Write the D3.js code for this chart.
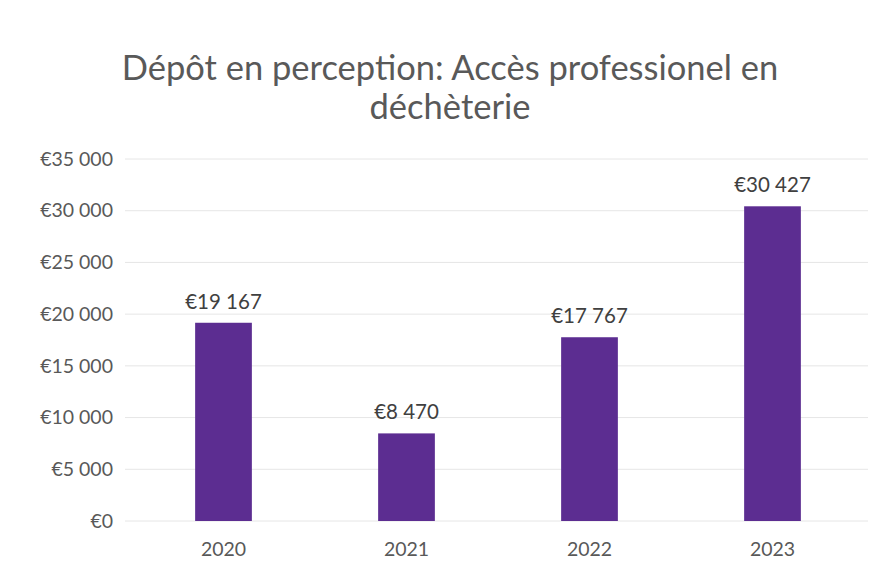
<!DOCTYPE html>
<html><head><meta charset="utf-8">
<script src="https://cdn.jsdelivr.net/npm/d3@7"></script>
<style>body{margin:0;background:#fff;}svg{display:block;font-family:Lato,"Open Sans",sans-serif;}</style>
</head><body><svg id="c" width="882" height="573"></svg>
<script>
const categories = ["2020","2021","2022","2023"];
const values = [19167, 8470, 17767, 30427];
const valueLabels = ["€19 167","€8 470","€17 767","€30 427"];
const yTicks = [0,5000,10000,15000,20000,25000,30000,35000];
const yTickLabels = ["€0","€5 000","€10 000","€15 000","€20 000","€25 000","€30 000","€35 000"];
const titleLines = ["Dépôt en perception: Accès professionel en","déchèterie"];

const svg = d3.select("#c");
const m = {l:132, r:864, t:159, b:521};
const x = d3.scaleBand().domain(categories).range([m.l, m.r]).paddingInner(0.69).paddingOuter(0.345);
const y = d3.scaleLinear().domain([0,35000]).range([m.b, m.t]);

svg.append("g").selectAll("line").data(yTicks).join("line")
  .attr("x1", 125).attr("x2", 868).attr("y1", d=>y(d)).attr("y2", d=>y(d))
  .attr("stroke","#e6e6e6").attr("stroke-width",1);

const yAxis = d3.axisLeft(y).tickValues(yTicks).tickSize(0).tickPadding(0)
  .tickFormat((d,i)=>yTickLabels[i]);
const ya = svg.append("g").attr("transform",`translate(113,0)`).call(yAxis);
ya.select(".domain").remove();
ya.selectAll("text").attr("font-size",19.5).attr("fill","#595959").attr("font-family","Lato,'Open Sans',sans-serif");

const xAxis = d3.axisBottom(x).tickSize(0).tickPadding(0);
const xa = svg.append("g").attr("transform",`translate(0,${m.b+21})`).call(xAxis);
xa.select(".domain").remove();
xa.selectAll("text").attr("font-size",19.5).attr("fill","#595959").attr("font-family","Lato,'Open Sans',sans-serif");

svg.append("g").selectAll("rect").data(values).join("rect")
  .attr("x",(d,i)=>x(categories[i])).attr("width",x.bandwidth())
  .attr("y",d=>y(d)).attr("height",d=>y(0)-y(d))
  .attr("fill","#5c2d91");

svg.append("g").selectAll("text").data(values).join("text")
  .attr("x",(d,i)=>x(categories[i])+x.bandwidth()/2)
  .attr("y",d=>y(d)-14)
  .attr("text-anchor","middle").attr("font-size",20.5).attr("fill","#404040")
  .text((d,i)=>valueLabels[i]);

svg.append("g").selectAll("text").data(titleLines).join("text")
  .attr("x",450).attr("y",(d,i)=>80+i*39)
  .attr("text-anchor","middle").attr("font-size",34.5).attr("fill","#595959")
  .text(d=>d);
</script></body></html>
